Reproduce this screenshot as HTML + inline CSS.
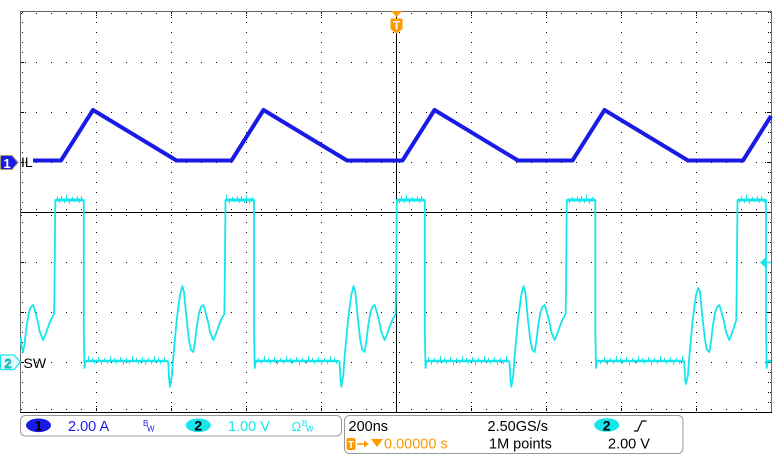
<!DOCTYPE html>
<html><head><meta charset="utf-8"><style>
html,body{margin:0;padding:0;background:#fff;overflow:hidden;}
svg{display:block;}
text{font-family:"Liberation Sans",sans-serif;}
</style></head><body>
<svg width="780" height="460" viewBox="0 0 780 460" xmlns="http://www.w3.org/2000/svg">
<defs>
<pattern id="nzh" patternUnits="userSpaceOnUse" x="0" y="194" width="20" height="12">
<g fill="#14e6ec"><rect x="1" y="2" width="1" height="4"/><rect x="4" y="6" width="1" height="3"/><rect x="6" y="1" width="1" height="5"/><rect x="9" y="6" width="1" height="4"/><rect x="12" y="3" width="1" height="3"/><rect x="14" y="6" width="1" height="2"/><rect x="17" y="2" width="1" height="4"/><rect x="19" y="6" width="1" height="3"/></g>
</pattern>
<pattern id="nzl" patternUnits="userSpaceOnUse" x="3" y="355" width="22" height="12">
<g fill="#14e6ec"><rect x="1" y="3" width="1" height="3"/><rect x="3" y="6" width="1" height="3"/><rect x="7" y="2" width="1" height="4"/><rect x="10" y="6" width="1" height="4"/><rect x="13" y="3" width="1" height="3"/><rect x="16" y="6" width="1" height="3"/><rect x="19" y="1" width="1" height="5"/></g>
</pattern>
</defs>
<rect width="780" height="460" fill="#fff"/>

<!-- grid -->
<g stroke="#000" stroke-width="1" shape-rendering="crispEdges" fill="none">
<g stroke-dasharray="1 9">
<line x1="96.5" y1="12" x2="96.5" y2="412"/><line x1="171.5" y1="12" x2="171.5" y2="412"/>
<line x1="246.5" y1="12" x2="246.5" y2="412"/><line x1="321.5" y1="12" x2="321.5" y2="412"/>
<line x1="471.5" y1="12" x2="471.5" y2="412"/><line x1="546.5" y1="12" x2="546.5" y2="412"/>
<line x1="621.5" y1="12" x2="621.5" y2="412"/><line x1="696.5" y1="12" x2="696.5" y2="412"/>
<line x1="393.5" y1="12" x2="393.5" y2="412"/><line x1="399.5" y1="12" x2="399.5" y2="412"/>
<line x1="22.5" y1="12" x2="22.5" y2="412"/><line x1="768.5" y1="12" x2="768.5" y2="412"/>
<line x1="770.5" y1="12" x2="770.5" y2="412"/>
</g>
<g stroke-dasharray="1 14">
<line x1="21" y1="62.5" x2="771" y2="62.5"/><line x1="21" y1="112.5" x2="771" y2="112.5"/>
<line x1="21" y1="162.5" x2="771" y2="162.5"/><line x1="21" y1="262.5" x2="771" y2="262.5"/>
<line x1="21" y1="312.5" x2="771" y2="312.5"/><line x1="21" y1="362.5" x2="771" y2="362.5"/>
<line x1="21" y1="209.5" x2="771" y2="209.5"/><line x1="21" y1="215.5" x2="771" y2="215.5"/>
<line x1="21" y1="13.5" x2="771" y2="13.5"/><line x1="21" y1="409.5" x2="771" y2="409.5"/>
</g>
<g stroke-dasharray="1 1">
<line x1="96.5" y1="13" x2="96.5" y2="18"/><line x1="171.5" y1="13" x2="171.5" y2="18"/><line x1="246.5" y1="13" x2="246.5" y2="18"/><line x1="321.5" y1="13" x2="321.5" y2="18"/><line x1="471.5" y1="13" x2="471.5" y2="18"/><line x1="546.5" y1="13" x2="546.5" y2="18"/><line x1="621.5" y1="13" x2="621.5" y2="18"/><line x1="696.5" y1="13" x2="696.5" y2="18"/>
<line x1="96.5" y1="406" x2="96.5" y2="411"/><line x1="171.5" y1="406" x2="171.5" y2="411"/><line x1="246.5" y1="406" x2="246.5" y2="411"/><line x1="321.5" y1="406" x2="321.5" y2="411"/><line x1="471.5" y1="406" x2="471.5" y2="411"/><line x1="546.5" y1="406" x2="546.5" y2="411"/><line x1="621.5" y1="406" x2="621.5" y2="411"/><line x1="696.5" y1="406" x2="696.5" y2="411"/>
<line x1="21" y1="62.5" x2="27" y2="62.5"/><line x1="21" y1="112.5" x2="27" y2="112.5"/><line x1="21" y1="162.5" x2="27" y2="162.5"/><line x1="21" y1="262.5" x2="27" y2="262.5"/><line x1="21" y1="312.5" x2="27" y2="312.5"/><line x1="21" y1="362.5" x2="27" y2="362.5"/>
<line x1="765" y1="62.5" x2="771" y2="62.5"/><line x1="765" y1="112.5" x2="771" y2="112.5"/><line x1="765" y1="162.5" x2="771" y2="162.5"/><line x1="765" y1="262.5" x2="771" y2="262.5"/><line x1="765" y1="312.5" x2="771" y2="312.5"/><line x1="765" y1="362.5" x2="771" y2="362.5"/>
</g>
<line x1="21" y1="212.5" x2="771" y2="212.5"/>
<line x1="396.5" y1="12" x2="396.5" y2="412"/>
</g>
<rect x="20.5" y="11.5" width="751" height="401" fill="none" stroke="#666" stroke-width="1" shape-rendering="crispEdges"/>
<line x1="20" y1="412.5" x2="772" y2="412.5" stroke="#000" stroke-width="1.3" shape-rendering="crispEdges"/>

<!-- SW trace -->
<g fill="none" stroke="#14e6ec" stroke-linejoin="round">
<path stroke-width="1.8" d="M20.7,337 L21.5,346 L23.1,352 L24.8,342 L26.5,327 L28.8,313 L30.8,307 L33.1,305 L34.8,310 L38.1,323 L39.8,332 L43.1,340 L45.3,335 L48.1,327 L50.8,320 L52.5,317 L54.1,314 L54.5,290 L55.3,200 L83.8,200 L83.8,330 L84.5,368 L85.5,361 L167.3,361 L168.2,362 L169.2,380 L170,386.7 L172,375 L173.3,357 L176.7,320 L180,295 L182.3,286 L184,292 L186.7,320 L189,340 L191,350 L193.3,352 L195,342 L196.7,327 L199,313 L201,307 L203.3,305 L205,310 L208.3,323 L210,332 L213.3,340 L215.5,335 L218.3,327 L221,320 L222.7,317 L224.3,314 L224.7,290 L225.5,200 L254,200 L254,330 L254.7,368 L255.7,361 L338.6,361 L339.5,362 L340.5,380 L341.3,386.7 L343.3,375 L344.6,357 L348,320 L351.3,295 L353.6,286 L355.3,292 L358,320 L360.3,340 L362.3,350 L364.6,352 L366.3,342 L368,327 L370.3,313 L372.3,307 L374.6,305 L376.3,310 L379.6,323 L381.3,332 L384.6,340 L386.8,335 L389.6,327 L392.3,320 L394,317 L395.6,314 L396,290 L396.8,200 L424.8,200 L424.8,330 L425.5,368 L426.5,361 L508.6,361 L509.5,362 L510.5,380 L511.3,386.7 L513.3,375 L514.6,357 L518,320 L521.3,295 L523.6,286 L525.3,292 L528,320 L530.3,340 L532.3,350 L534.6,352 L536.3,342 L538,327 L540.3,313 L542.3,307 L544.6,305 L546.3,310 L549.6,323 L551.3,332 L554.6,340 L556.8,335 L559.6,327 L562.3,320 L564,317 L565.6,314 L566,290 L566.8,200 L595.3,200 L595.3,330 L596,368 L597,361 L683.3,361 L684.2,362 L685.2,380 L686,384 L688,375 L689.3,357 L692.7,320 L696,295 L698.3,288 L700,292 L702.7,320 L705,340 L707,350 L709.3,352 L711,342 L712.7,327 L715,313 L717,307 L719.3,305 L721,310 L724.3,323 L726,332 L729.3,340 L731,336 L733,330 L735,324 L736.3,320 L736.7,290 L737.5,200 L766,200 L766,330 L766.7,368 L767.5,361 L771,362"/>
<path stroke-width="3" d="M56,200 H83 M226,200 H253.3 M397.5,200 H424 M567.5,200 H594.6 M738,200 H765.3"/>
<path stroke-width="2.5" d="M86,361 H167 M256,361 H338 M427,361 H508 M597.5,361 H683 M768,361 H771"/>
</g>
<g>
<rect x="56" y="194" width="27" height="12" fill="url(#nzh)"/>
<rect x="226" y="194" width="27" height="12" fill="url(#nzh)"/>
<rect x="398" y="194" width="26" height="12" fill="url(#nzh)"/>
<rect x="568" y="194" width="26" height="12" fill="url(#nzh)"/>
<rect x="739" y="194" width="26" height="12" fill="url(#nzh)"/>
<rect x="87" y="355" width="80" height="12" fill="url(#nzl)"/>
<rect x="257" y="355" width="81" height="12" fill="url(#nzl)"/>
<rect x="428" y="355" width="80" height="12" fill="url(#nzl)"/>
<rect x="599" y="355" width="84" height="12" fill="url(#nzl)"/>
</g>

<!-- IL trace -->
<path fill="none" stroke="#1a1ae6" stroke-width="4" stroke-linejoin="round" d="M33,160.5 L61,160.5 L93,110 L176.5,160.5 L231.5,160.5 L263.5,110 L347,160.5 L402.5,160.5 L434.5,110 L518,160.5 L572.5,160.5 L604.5,110 L688,160.5 L743,160.5 L771,116"/>

<!-- markers -->
<path d="M1.5,155.5 H12 L18,162.5 L12,169.5 H1.5 Q0.5,169.5 0.5,168.5 V156.5 Q0.5,155.5 1.5,155.5 Z" fill="#1a1ae6" stroke="#a09a78" stroke-width="1"/>
<text x="7" y="168" font-size="13" font-weight="bold" fill="#fff" text-anchor="middle">1</text>
<text x="21" y="167" font-size="14" fill="#000">IL</text>
<path d="M1.5,355 H14 L20.5,362 L14,369.5 H1.5 Q0.5,369.5 0.5,368.5 V356 Q0.5,355 1.5,355 Z" fill="#e6fcfc" stroke="#14e6ec" stroke-width="1.2"/>
<text x="8" y="368" font-size="13" font-weight="bold" fill="#14e6ec" stroke="#066" stroke-width="0.4" text-anchor="middle">2</text>
<text x="23.5" y="368" font-size="14" fill="#000">SW</text>

<path d="M391,11 L402,11 L396.5,17 Z" fill="#ff9900"/>
<path d="M391.5,18.5 H401.5 Q402.5,18.5 402.5,19.5 V29 L396.5,33.5 L390.5,29 V19.5 Q390.5,18.5 391.5,18.5 Z" fill="#ff9900"/>
<text x="396.5" y="29.5" font-size="12" font-weight="bold" fill="#fff" text-anchor="middle">T</text>

<path d="M760,262.5 L766,257 L766,268 Z" fill="#14e6ec"/>
<line x1="766" y1="262.5" x2="771" y2="262.5" stroke="#14e6ec" stroke-width="1.5"/>

<!-- status bar -->
<rect x="20.5" y="415.5" width="321" height="20.5" rx="5" fill="none" stroke="#999" stroke-width="1"/>
<ellipse cx="38.5" cy="425.3" rx="12.5" ry="6.8" fill="#1a1ae6"/>
<text x="38.5" y="430.5" font-size="14" font-weight="bold" fill="#000" text-anchor="middle">1</text>
<text x="68" y="431" font-size="14.5" fill="#1a1ae6">2.00 A</text>
<text x="143" y="426" font-size="8" fill="#1a1ae6">B</text>
<text x="147" y="431.5" font-size="8" fill="#1a1ae6">W</text>
<ellipse cx="198.3" cy="425.3" rx="12.5" ry="6.8" fill="#14e6ec"/>
<text x="198.3" y="430.5" font-size="14" font-weight="bold" fill="#000" text-anchor="middle">2</text>
<text x="228" y="431" font-size="14.5" fill="#14e6ec">1.00 V</text>
<text x="291.5" y="431" font-size="13" fill="#14e6ec">Ω</text>
<text x="302" y="426" font-size="8" fill="#14e6ec">B</text>
<text x="306" y="431.5" font-size="8" fill="#14e6ec">W</text>

<rect x="344.5" y="415.5" width="338.5" height="38" rx="5" fill="none" stroke="#999" stroke-width="1"/>
<text x="348.5" y="431" font-size="14.5" fill="#000">200ns</text>
<text x="487.5" y="431" font-size="14.5" fill="#000">2.50GS/s</text>
<ellipse cx="606.7" cy="425" rx="12.5" ry="6.8" fill="#14e6ec"/>
<text x="606.7" y="430.3" font-size="14" font-weight="bold" fill="#000" text-anchor="middle">2</text>
<polyline points="634,431 637.5,431 642,421 646.5,421" fill="none" stroke="#000" stroke-width="1.2"/>

<rect x="346.5" y="438" width="9" height="12" rx="2" fill="#ff9900"/>
<text x="351" y="448" font-size="10" font-weight="bold" fill="#fff" text-anchor="middle">T</text>
<line x1="357" y1="444" x2="365" y2="444" stroke="#ff9900" stroke-width="1.6"/>
<path d="M364,440.5 L369,444 L364,447.5 Z" fill="#ff9900"/>
<path d="M371,439 L383,439 L377,447 Z" fill="#ff9900"/>
<text x="384" y="448.3" font-size="14.5" fill="#ff9900">0.00000 s</text>
<text x="489" y="448.3" font-size="14.5" fill="#000">1M points</text>
<text x="608" y="448.3" font-size="14.5" fill="#000">2.00 V</text>
</svg>
</body></html>
